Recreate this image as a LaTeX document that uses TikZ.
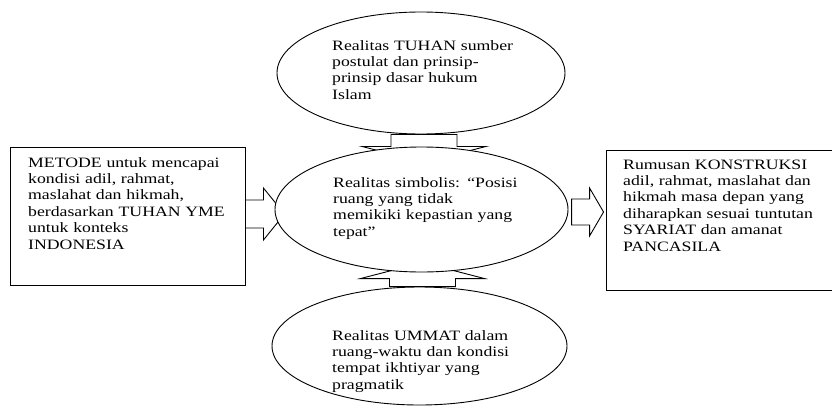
\documentclass[tikz,border=0pt]{standalone}
\usepackage{fontspec}
\setmainfont{Liberation Serif}[FakeStretch=1.24]
\usetikzlibrary{shapes.geometric,calc,backgrounds}
\begin{document}
\begin{tikzpicture}[x=1pt,y=-1pt,
  outline/.style={draw=black,line width=0.9pt,fill=white},
  oval/.style={outline,ellipse,inner sep=0pt},
  panel/.style={outline,rectangle,inner sep=0pt},
  label/.style={anchor=base west,inner sep=0pt,align=left,text width=240pt,
    font=\fontsize{14.3}{16.4}\selectfont},
  blockarrow/.style={draw=black,line width=0.9pt,fill=white,line join=miter}]
\useasboundingbox (0,0) rectangle (832,407);

% side panels
\node[panel,minimum width=235pt,minimum height=138pt] (metode) at (127.5,216) {};
\node[panel,minimum width=234pt,minimum height=140pt] (rumusan) at (723,220) {};

% the three realities
\node[oval,minimum width=288pt,minimum height=122pt] (tuhan) at (421,73) {};
\node[oval,minimum width=293pt,minimum height=125pt] (simbol) at (421.5,209.5) {};
\node[oval,minimum width=295pt,minimum height=118pt] (ummat) at (419.5,346) {};

% block arrows, kept behind the ovals
\begin{scope}[on background layer]
  % METODE -> symbolic reality
  \draw[blockarrow] ($(metode.east)+(0,-16)$) -- ++(18,0) -- ++(0,-12)
    -- ++(21,26) -- ++(-21,26) -- ++(0,-12) -- ++(-18,0) -- cycle;
  % symbolic reality -> KONSTRUKSI
  \draw[blockarrow] ($(rumusan.west)+(-34,-21)$) -- ++(18,0) -- ++(0,-11)
    -- ++(14,24) -- ++(-14,24) -- ++(0,-11) -- ++(-18,0) -- cycle;
  % TUHAN -> symbolic reality
  \draw[blockarrow] ($(tuhan.south)+(-30,0)$) -- ++(0,12) -- ++(-29,0)
    -- ++(62,16) -- ++(62,-16) -- ++(-29,0) -- ++(0,-12) -- cycle;
  % UMMAT -> symbolic reality
  \draw[blockarrow] ($(ummat.north)+(-30,0)$) -- ++(0,-8) -- ++(-29,0)
    -- ++(62,-16) -- ++(62,16) -- ++(-29,0) -- ++(0,8) -- cycle;
\end{scope}

% texts
\node[label] (t-tuhan) at (332,50) {Realitas TUHAN sumber\\postulat dan prinsip-\\prinsip dasar hukum\\Islam};
\node[label] (t-simbol) at (333,187) {Realitas simbolis: ``Posisi\\ruang yang tidak\\memikiki kepastian yang\\tepat''};
\node[label] (t-ummat) at (332,340) {Realitas UMMAT dalam\\ruang-waktu dan kondisi\\tempat ikhtiyar yang\\pragmatik};
\node[label] (t-metode) at (28,167) {METODE untuk mencapai\\kondisi adil, rahmat,\\maslahat dan hikmah,\\berdasarkan TUHAN YME\\untuk konteks\\INDONESIA};
\node[label] (t-rumusan) at (623,169) {Rumusan KONSTRUKSI\\adil, rahmat, maslahat dan\\hikmah masa depan yang\\diharapkan sesuai tuntutan\\SYARIAT dan amanat\\PANCASILA};
\end{tikzpicture}
\end{document}
